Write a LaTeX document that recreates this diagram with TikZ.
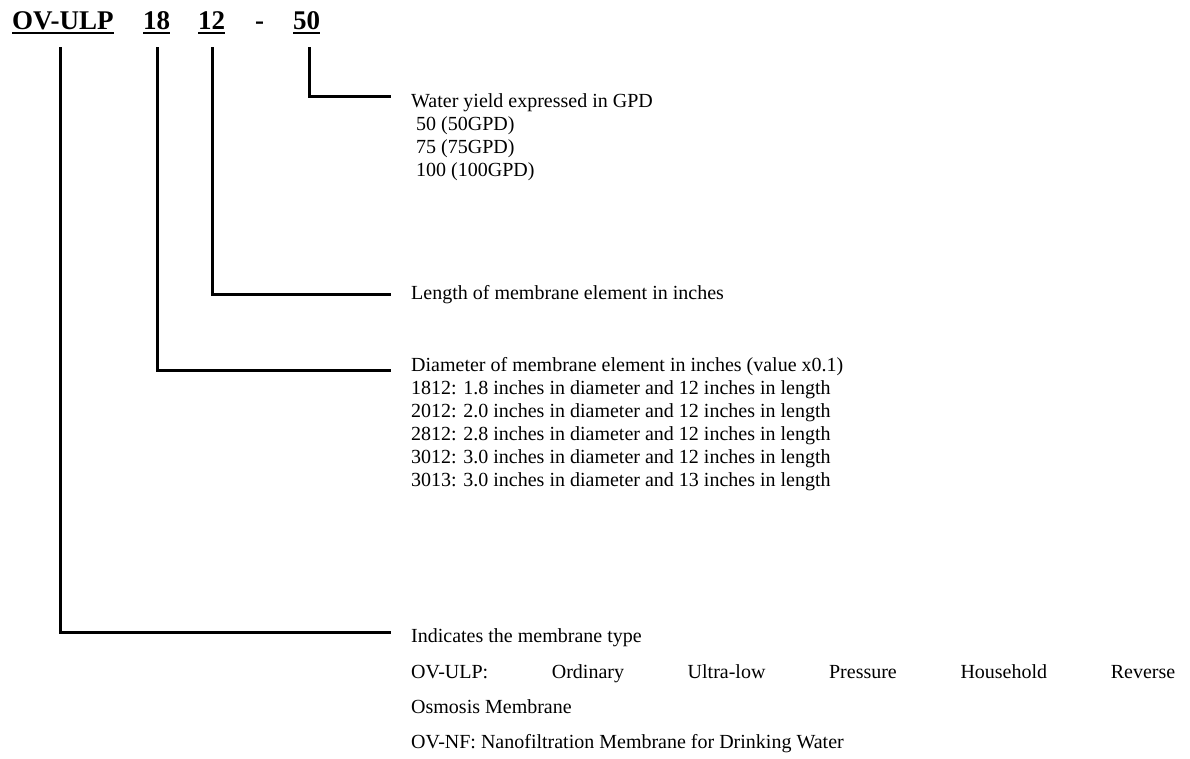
\documentclass[tikz,border=0pt]{standalone}
\usepackage{fontspec}
\setmainfont{Liberation Serif}
\begin{document}
\begin{tikzpicture}[x=1pt,y=-1pt,
  hdr/.style={anchor=base west,inner sep=0pt,font=\fontsize{27}{31}\selectfont\bfseries},
  lbl/.style={anchor=base west,inner sep=0pt,font=\fontsize{20}{23}\selectfont},
  conn/.style={line width=3pt,line join=miter},
  uline/.style={line width=1.6pt}]
\useasboundingbox (0,0) rectangle (1190,758);
% header
\node[hdr] (hA) at (12,29) {OV-ULP};
\node[hdr] (hB) at (143,29) {18};
\node[hdr] (hC) at (198,29) {12};
\node[hdr] (hD) at (255,29) {-};
\node[hdr] (hE) at (293,29) {50};
\foreach \n in {hA,hB,hC,hE}{
  \draw[uline] ([yshift=-4pt]\n.base west) -- ([yshift=-4pt]\n.base east);
}
% connector corners
\coordinate (a1) at (60,47);  \coordinate (a2) at (391,632);
\coordinate (b1) at (157,47); \coordinate (b2) at (391,370);
\coordinate (c1) at (212,47); \coordinate (c2) at (391,294);
\coordinate (e1) at (309,47); \coordinate (e2) at (391,96);
\draw[conn] (a1) |- (a2);
\draw[conn] (b1) |- (b2);
\draw[conn] (c1) |- (c2);
\draw[conn] (e1) |- (e2);
% labels: yield
\node[lbl] (y0) at (411,107) {Water yield expressed in GPD};
\node[lbl] (y1) at (416,130) {50 (50GPD)};
\node[lbl] (y2) at (416,153) {75 (75GPD)};
\node[lbl] (y3) at (416,176) {100 (100GPD)};
% length
\node[lbl] (l0) at (411,299) {Length of membrane element in inches};
% diameter
\node[lbl] (d0) at (411,371) {Diameter of membrane element in inches (value x0.1)};
\node[lbl] (d1) at (411,394) {1812: 1.8 inches in diameter and 12 inches in length};
\node[lbl] (d2) at (411,417) {2012: 2.0 inches in diameter and 12 inches in length};
\node[lbl] (d3) at (411,440) {2812: 2.8 inches in diameter and 12 inches in length};
\node[lbl] (d4) at (411,463) {3012: 3.0 inches in diameter and 12 inches in length};
\node[lbl] (d5) at (411,486) {3013: 3.0 inches in diameter and 13 inches in length};
% type
\node[lbl] (t0) at (411,642) {Indicates the membrane type};
\node[lbl] (t1) at (411,678) {\makebox[764pt][s]{OV-ULP: Ordinary Ultra-low Pressure Household Reverse}};
\node[lbl] (t2) at (411,713) {Osmosis Membrane};
\node[lbl] (t3) at (411,748) {OV-NF: Nanofiltration Membrane for Drinking Water};
\end{tikzpicture}
\end{document}
